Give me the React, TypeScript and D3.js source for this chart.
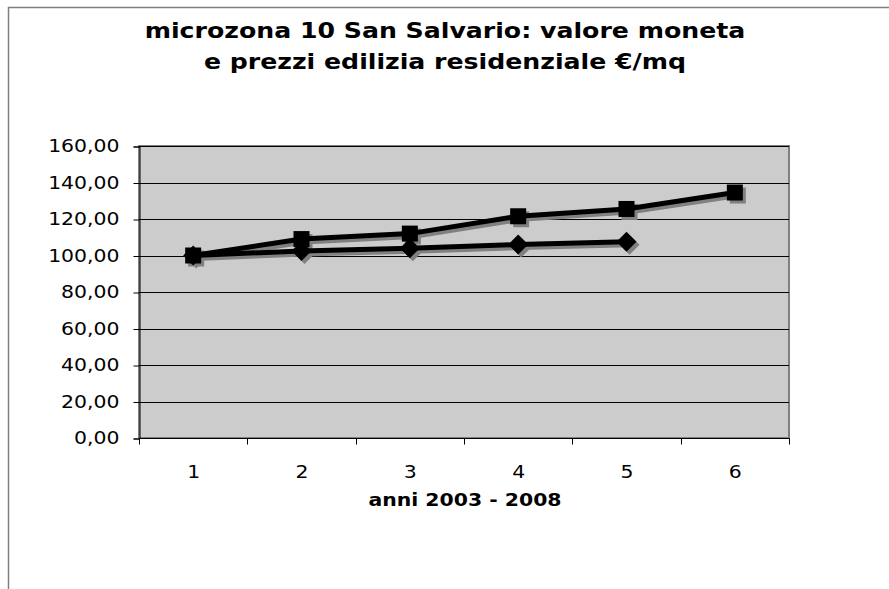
import React, { useEffect, useRef } from "react";
import * as d3 from "d3";

// values
const years = ["1", "2", "3", "4", "5", "6"];
const prezzi = [100, 109, 112, 121.5, 125.5, 134.5]; // squares
const moneta = [100, 102.5, 104, 106, 107.5]; // diamonds
const yTicks = [0, 20, 40, 60, 80, 100, 120, 140, 160];

const titleLines = ["microzona 10 San Salvario: valore moneta", "e prezzi edilizia residenziale €/mq"];
const xTitle = "anni 2003 - 2008";

const W = 889;
const H = 589;
const font = "Verdana, 'DejaVu Sans', sans-serif";
const stretch = 1.2; // the reference text is horizontally wide

export default function App() {
  const ref = useRef<SVGSVGElement>(null);

  useEffect(() => {
    const svg = d3.select(ref.current);
    svg.selectAll("*").remove();

    const plot = { left: 139, right: 789, top: 146, bottom: 438 };

    const x = d3.scaleBand().domain(years).range([plot.left, plot.right]);
    const y = d3.scaleLinear().domain([0, 160]).range([plot.bottom, plot.top]);
    const it = d3.formatLocale({ decimal: ",", thousands: ".", grouping: [3], currency: ["€", ""] });
    const fmt = it.format(".2f");

    // outer chart frame (cropped on right/bottom)
    svg.append("rect").attr("x", 8.5).attr("y", 7.5).attr("width", W + 20).attr("height", H + 20)
      .attr("fill", "#fff").attr("stroke", "#808080").attr("stroke-width", 1.5);

    // title
    svg.append("g").attr("transform", `translate(445,0) scale(${stretch},1)`)
      .selectAll("text").data(titleLines).join("text")
      .attr("x", 0).attr("y", (d, i) => 38 + i * 31).attr("text-anchor", "middle")
      .attr("font-family", font).attr("font-weight", "bold").attr("font-size", 21)
      .text(d => d);

    // plot background
    svg.append("rect").attr("x", plot.left).attr("y", plot.top)
      .attr("width", plot.right - plot.left).attr("height", plot.bottom - plot.top)
      .attr("fill", "#cccccc").attr("stroke", "#808080").attr("stroke-width", 2);

    // gridlines
    svg.append("g").selectAll("line").data(yTicks.filter(d => d > 0)).join("line")
      .attr("x1", plot.left).attr("x2", plot.right)
      .attr("y1", d => Math.round(y(d)) + 0.5).attr("y2", d => Math.round(y(d)) + 0.5)
      .attr("stroke", "#000").attr("stroke-width", 1);

    // y axis
    const yAxis = svg.append("g").attr("transform", `translate(${plot.left + 0.5},0.5)`)
      .call(d3.axisLeft(y).tickValues(yTicks).tickFormat(d => fmt(d as number)).tickSize(6));
    yAxis.select(".domain").attr("stroke", "#000");
    yAxis.selectAll("text").attr("x", 0).attr("transform", `translate(-20,0) scale(${stretch},1)`)
      .attr("font-family", font).attr("font-size", 17).attr("fill", "#000");

    // x axis: ticks on category boundaries
    const xg = svg.append("g").attr("transform", `translate(0.5,${plot.bottom + 0.5})`);
    xg.append("line").attr("x1", plot.left).attr("x2", plot.right).attr("stroke", "#000");
    const bounds = years.map(d => x(d) as number).concat([plot.right]);
    xg.selectAll("line.tick").data(bounds).join("line").attr("class", "tick")
      .attr("x1", d => Math.round(d)).attr("x2", d => Math.round(d)).attr("y1", 0).attr("y2", 6)
      .attr("stroke", "#000");
    xg.selectAll("text").data(years).join("text")
      .attr("transform", d => `translate(${(x(d) as number) + x.bandwidth() / 2},39) scale(${stretch},1)`)
      .attr("text-anchor", "middle").attr("font-family", font).attr("font-size", 17).text(d => d);

    svg.append("text").attr("transform", `translate(465,506) scale(${stretch},1)`).attr("text-anchor", "middle")
      .attr("font-family", font).attr("font-weight", "bold").attr("font-size", 17).text(xTitle);

    const cx = (i: number) => (x(years[i]) as number) + x.bandwidth() / 2;
    const line = d3.line<number>().x((d, i) => cx(i)).y(d => y(d));
    const sq = 16;
    const dm = 10;

    const drawSeries = (vals: number[], shape: "square" | "diamond", dx: number, color: string) => {
      const g = svg.append("g").attr("transform", `translate(${dx},${dx})`);
      g.append("path").attr("d", line(vals)).attr("fill", "none")
        .attr("stroke", color).attr("stroke-width", 5).attr("stroke-linejoin", "round");
      if (shape === "square") {
        g.selectAll("rect").data(vals).join("rect")
          .attr("x", (d, i) => cx(i) - sq / 2).attr("y", d => y(d) - sq / 2)
          .attr("width", sq).attr("height", sq).attr("fill", color);
      } else {
        g.selectAll("path.m").data(vals).join("path").attr("class", "m")
          .attr("d", (d, i) => {
            const px = cx(i), py = y(d);
            return `M${px},${py - dm}L${px + dm},${py}L${px},${py + dm}L${px - dm},${py}Z`;
          })
          .attr("fill", color);
      }
    };

    // shadows first, then black series
    drawSeries(moneta, "diamond", 3, "#808080");
    drawSeries(prezzi, "square", 3, "#808080");
    drawSeries(moneta, "diamond", 0, "#000");
    drawSeries(prezzi, "square", 0, "#000");
  }, []);

  return (
    <svg ref={ref} width={W} height={H} style={{ position: "absolute", left: 0, top: 0, background: "#fff" }} />
  );
}
